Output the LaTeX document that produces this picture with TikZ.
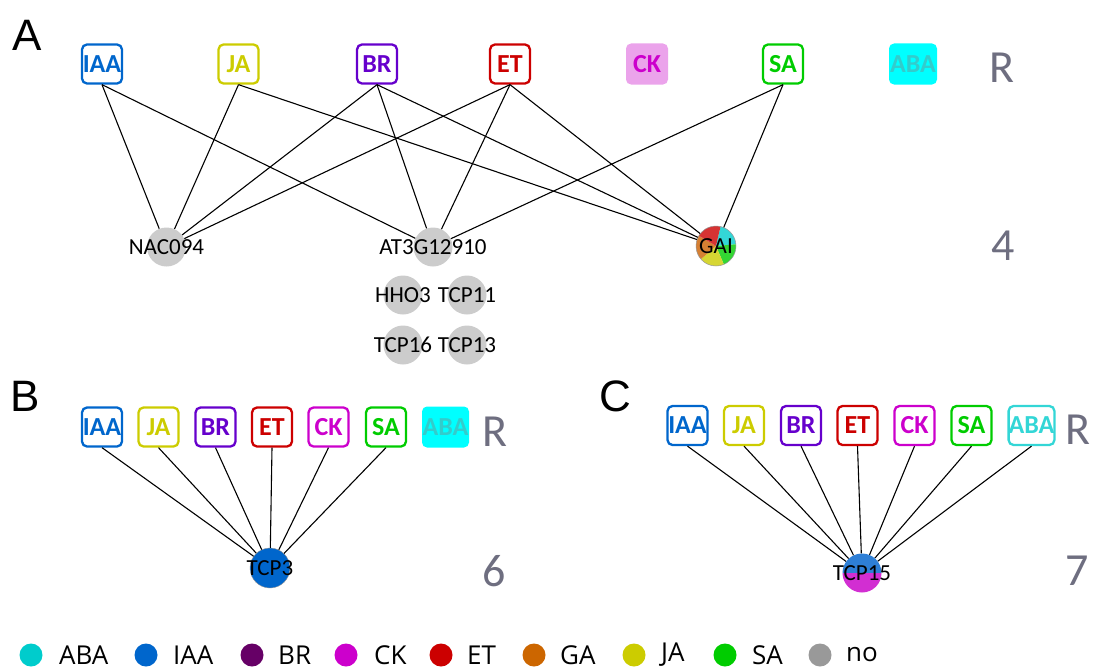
\documentclass[tikz,border=0pt]{standalone}
\usepackage{fontspec}
\setmainfont{Carlito}
\newfontfamily\legfont{Open Sans}
\newfontfamily\panelfont{Liberation Sans}
\definecolor{cIAA}{HTML}{0066CC}
\definecolor{cJA}{HTML}{CCCC00}
\definecolor{cBR}{HTML}{6600CC}
\definecolor{cET}{HTML}{CC0000}
\definecolor{cCK}{HTML}{CC00CC}
\definecolor{cSA}{HTML}{00CC00}
\definecolor{cABA}{HTML}{00CCCC}
\definecolor{cABAtxt}{HTML}{33CCCC}
\definecolor{cABAfill}{HTML}{00FFFF}
\definecolor{cCKfill}{HTML}{EBA3EB}
\definecolor{cLBR}{HTML}{660066}
\definecolor{cGA}{HTML}{CC6600}
\definecolor{cNO}{HTML}{999999}
\definecolor{cGene}{HTML}{CCCCCC}
\definecolor{cGray}{HTML}{6E6E80}
\definecolor{cTop}{HTML}{2E7FD6}
\definecolor{cBot}{HTML}{D22ED2}
\definecolor{cPieC}{HTML}{33D6D6}
\definecolor{cPieR}{HTML}{D63333}
\definecolor{cPieG}{HTML}{33D633}
\definecolor{cPieY}{HTML}{D6D633}
\definecolor{cPieO}{HTML}{D68033}
\tikzset{
  hbox/.style={draw=#1, text=#1, line width=2.3pt, rounded corners=5pt,
    minimum width=40pt, minimum height=39pt, inner sep=0pt,
    font=\fontsize{26}{26}\selectfont\bfseries},
  hfill/.style 2 args={fill=#1, text=#2, rounded corners=5pt,
    minimum width=42pt, minimum height=41pt, inner sep=0pt,
    font=\fontsize{26}{26}\selectfont\bfseries},
  gene/.style={circle, fill=cGene, minimum size=39pt, inner sep=0pt},
  glabel/.style={font=\fontsize{23}{23}\selectfont, text=black, inner sep=0pt},
  edge/.style={line width=1.1pt, black},
  big/.style={font=\fontsize{46}{46}\selectfont, text=cGray, inner sep=0pt},
  panel/.style={font=\panelfont\fontsize{44}{44}\selectfont, inner sep=0pt},
  legdot/.style={circle, fill=#1, minimum size=23pt, inner sep=0pt},
  legtxt/.style={font=\legfont\fontsize{26}{26}\selectfont, anchor=west, inner sep=0pt}
}
\begin{document}
\begin{tikzpicture}[x=1pt,y=1pt]
\useasboundingbox (0,0) rectangle (1094,-669);
% ---------- Panel A ----------
\node[panel] (labA) at (27,-35) {A};
\node[hbox=cIAA] (iaaA) at (102,-64) {IAA};
\node[hbox=cJA] (jaA) at (238.5,-64) {JA};
\node[hbox=cBR] (brA) at (377,-64) {BR};
\node[hbox=cET] (etA) at (510,-64) {ET};
\node[hfill={cCKfill}{cCK}] (ckA) at (647,-64) {CK};
\node[hbox=cSA] (saA) at (783,-64) {SA};
\node[hfill={cABAfill}{cABAtxt}, minimum width=48pt] (abaA) at (913,-64) {ABA};
\node[big] (rA) at (1002,-68) {R};
\node[gene] (nac) at (166.5,-247) {};
\node[gene] (at3) at (433,-247) {};
\node[circle, minimum size=40pt, inner sep=0pt] (gai) at (716,-246) {};
\node[gene] (hho3) at (403,-295) {};
\node[gene] (tcp11) at (467,-295) {};
\node[gene] (tcp16) at (403,-345) {};
\node[gene] (tcp13) at (467,-345) {};
\begin{scope}[shift={(gai.center)}]
  \fill[cPieC] (0,0) -- (77:20) arc[start angle=77, end angle=5, radius=20] -- cycle;
  \fill[cPieG] (0,0) -- (5:20) arc[start angle=5, end angle=-67, radius=20] -- cycle;
  \fill[cPieY] (0,0) -- (-67:20) arc[start angle=-67, end angle=-139, radius=20] -- cycle;
  \fill[cPieO] (0,0) -- (-139:20) arc[start angle=-139, end angle=-211, radius=20] -- cycle;
  \fill[cPieR] (0,0) -- (149:20) arc[start angle=149, end angle=77, radius=20] -- cycle;
  \draw[cNO, line width=0.5pt] (0,0) circle[radius=20];
\end{scope}
\foreach \s/\t in {iaaA/nac, iaaA/at3, jaA/nac, jaA/gai, brA/nac, brA/at3, brA/gai,
                   etA/nac, etA/at3, etA/gai, saA/at3, saA/gai}
  \draw[edge] (\s.south) -- (\t);
\node[glabel] at (nac) {NAC094};
\node[glabel] at (at3) {AT3G12910};
\node[glabel] at (gai) {GAI};
\node[glabel] at (hho3) {HHO3};
\node[glabel] at (tcp11) {TCP11};
\node[glabel] at (tcp16) {TCP16};
\node[glabel] at (tcp13) {TCP13};
\node[big] (nA) at (1003,-246) {4};
% ---------- Panel B ----------
\node[panel] (labB) at (25,-396) {B};
\node[hbox=cIAA] (iaaB) at (102,-427) {IAA};
\node[hbox=cJA] (jaB) at (158.5,-427) {JA};
\node[hbox=cBR] (brB) at (215.5,-427) {BR};
\node[hbox=cET] (etB) at (272,-427) {ET};
\node[hbox=cCK] (ckB) at (328.5,-427) {CK};
\node[hbox=cSA] (saB) at (386,-427) {SA};
\node[hfill={cABAfill}{cABAtxt}, minimum width=47pt] (abaB) at (445.5,-427) {ABA};
\node[big] (rB) at (495,-432) {R};
\node[circle, fill=cIAA, draw=cNO, line width=0.4pt, minimum size=40pt, inner sep=0pt] (tcp3) at (270,-568) {};
\foreach \s in {iaaB, jaB, brB, etB, ckB, saB}
  \draw[edge] (\s.south) -- (tcp3);
\node[glabel] at (tcp3) {TCP3};
\node[big] (nB) at (494,-571) {6};
% ---------- Panel C ----------
\node[panel] (labC) at (615,-396) {C};
\node[hbox=cIAA] (iaaC) at (687.5,-425.5) {IAA};
\node[hbox=cJA] (jaC) at (744,-425.5) {JA};
\node[hbox=cBR] (brC) at (801,-425.5) {BR};
\node[hbox=cET] (etC) at (857.5,-425.5) {ET};
\node[hbox=cCK] (ckC) at (914.5,-425.5) {CK};
\node[hbox=cSA] (saC) at (971.5,-425.5) {SA};
\node[hbox=cPieC, minimum width=45pt] (abaC) at (1031.5,-425.5) {ABA};
\node[big] (rC) at (1078,-430) {R};
\node[circle, minimum size=39pt, inner sep=0pt] (tcp15) at (862,-573) {};
\begin{scope}[shift={(tcp15.center)}]
  \fill[cTop] (0:19.5) arc[start angle=0, end angle=180, radius=19.5] -- cycle;
  \fill[cBot] (180:19.5) arc[start angle=180, end angle=360, radius=19.5] -- cycle;
\end{scope}
\foreach \s in {iaaC, jaC, brC, etC, ckC, saC, abaC}
  \draw[edge] (\s.south) -- (tcp15);
\node[glabel] at (tcp15) {TCP15};
\node[big] (nC) at (1077,-571) {7};
% ---------- Legend ----------
\foreach \x/\tx/\c/\n in {31/59/cABA/ABA, 146/173/cIAA/IAA, 252/278/cLBR/BR, 346/374/cCK/CK,
                          441/467/cET/ET, 534/560/cGA/GA, 634/661/cJA/JA, 725/752/cSA/SA, 820/846/cNO/no} {
  \node[legdot=\c] (d\n) at (\x,-655) {};
  \node[legtxt] (t\n) at (\tx,-655) {\n};
}
\end{tikzpicture}
\end{document}
